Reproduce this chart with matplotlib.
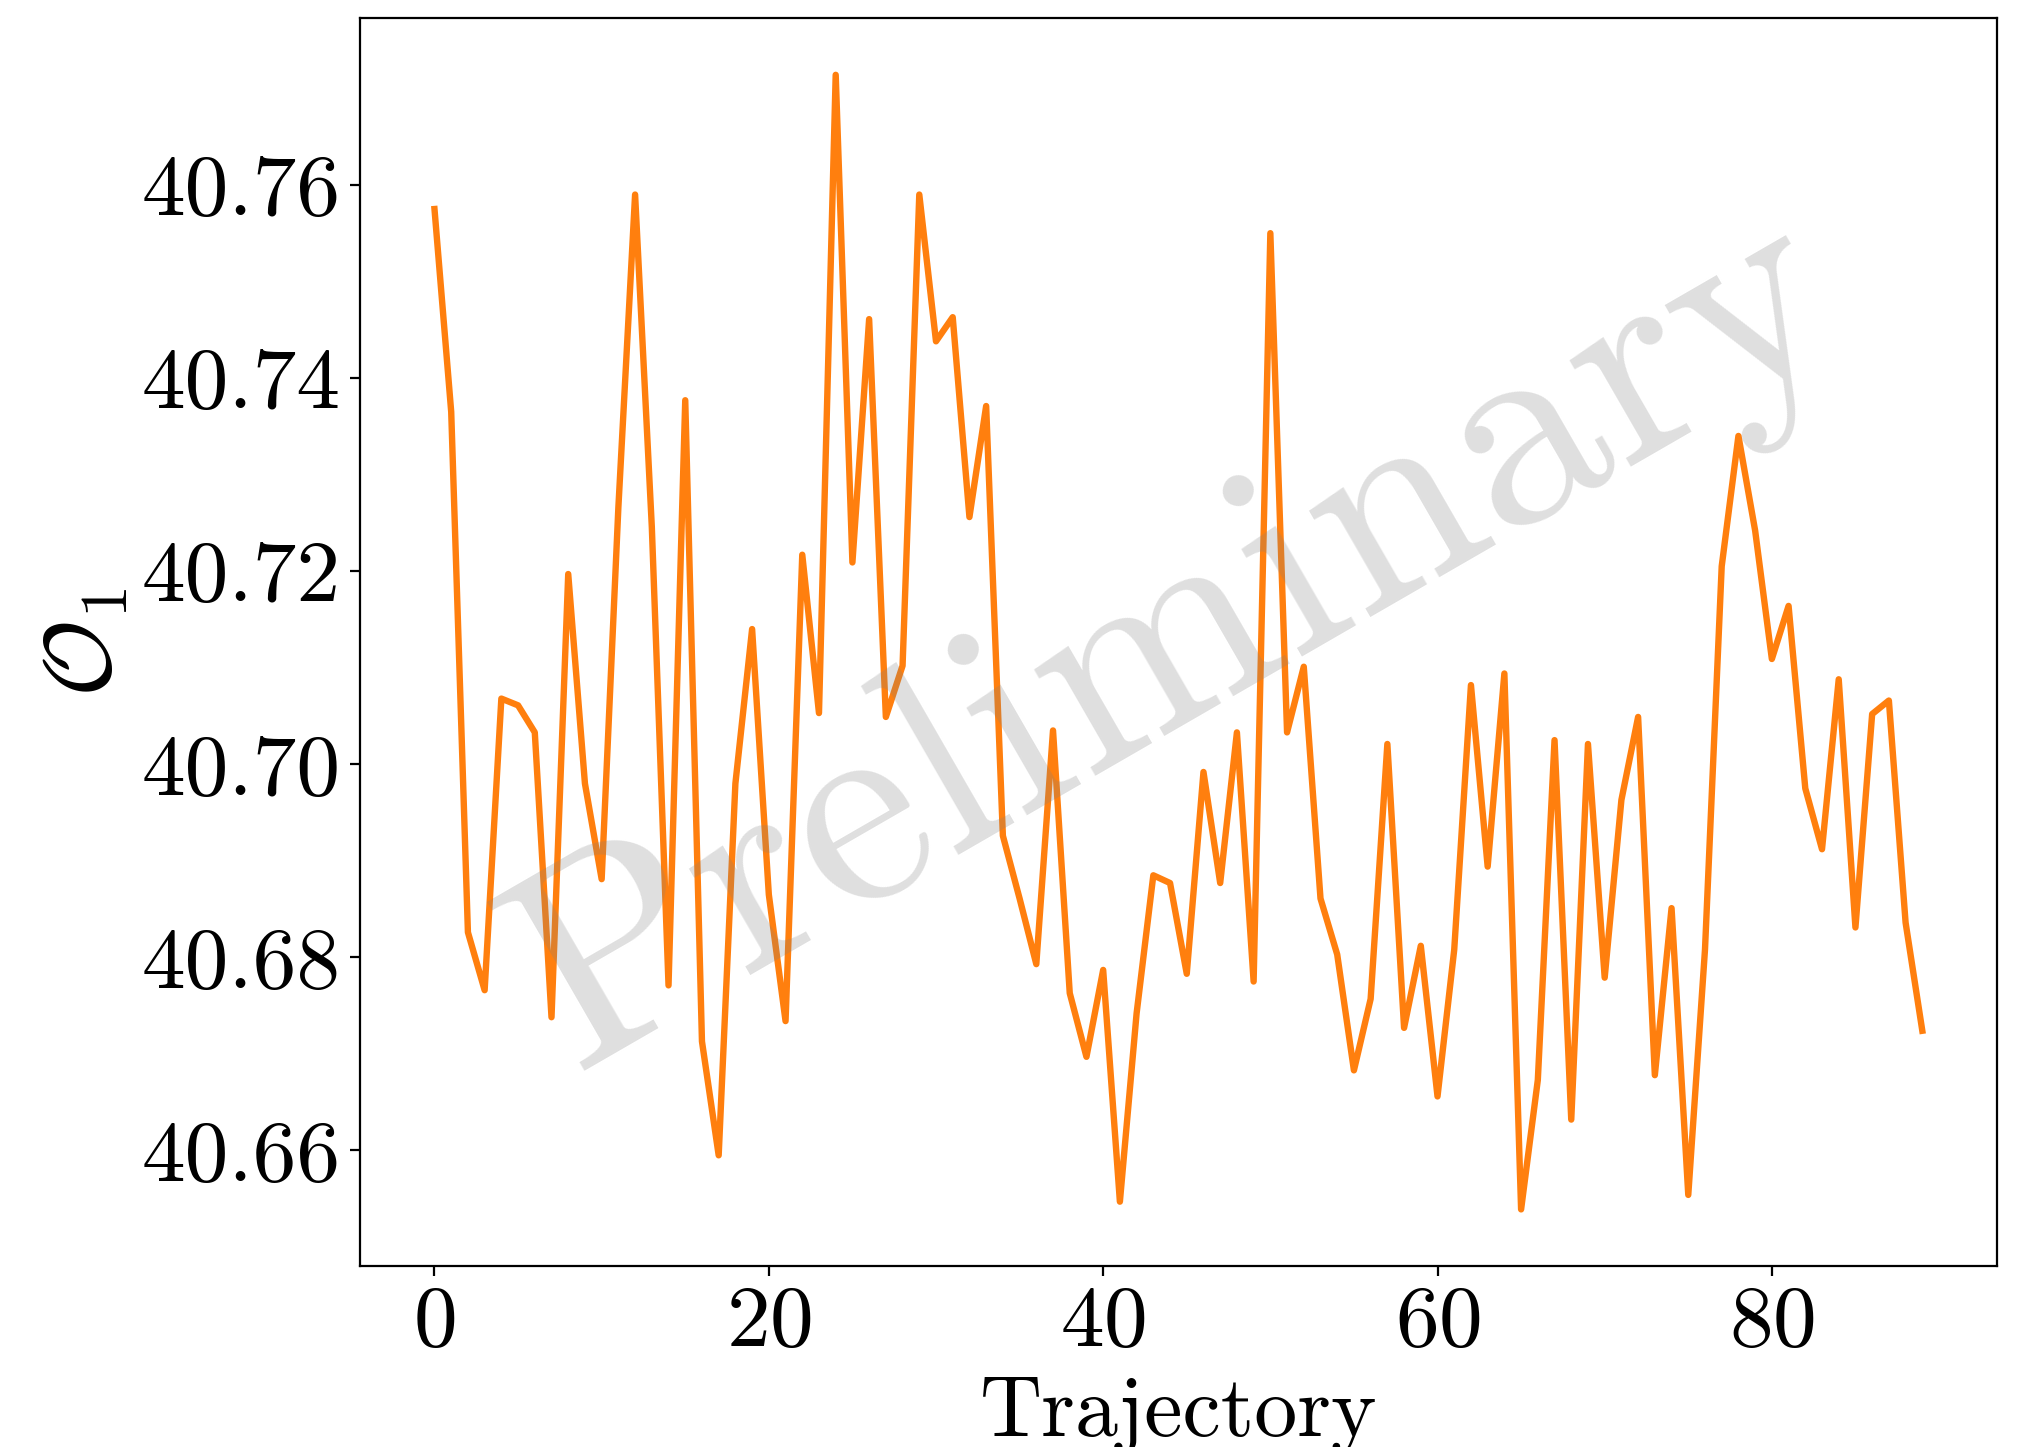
import numpy as np
import matplotlib
matplotlib.use("Agg")
import matplotlib.pyplot as plt

plt.rcParams['font.family'] = 'serif'
plt.rcParams['font.serif'] = ['cmr10']
plt.rcParams['mathtext.fontset'] = 'cm'
plt.rcParams['axes.formatter.use_mathtext'] = True

# observable value per trajectory
trajectory = np.arange(90)
obs = [
    40.7575, 40.7365, 40.6826, 40.6766, 40.7068, 40.7061, 40.7033, 40.6738, 40.7197, 40.6980,
    40.6881, 40.7266, 40.7590, 40.7246, 40.6771, 40.7377, 40.6713, 40.6595, 40.6980, 40.7140,
    40.6865, 40.6734, 40.7217, 40.7053, 40.7714, 40.7209, 40.7461, 40.7049, 40.7102, 40.7590,
    40.7438, 40.7463, 40.7256, 40.7371, 40.6926, 40.6861, 40.6793, 40.7035, 40.6763, 40.6697,
    40.6787, 40.6547, 40.6742, 40.6885, 40.6877, 40.6783, 40.6992, 40.6877, 40.7033, 40.6775,
    40.7550, 40.7033, 40.7101, 40.6861, 40.6803, 40.6683, 40.6757, 40.7021, 40.6727, 40.6812,
    40.6656, 40.6808, 40.7082, 40.6894, 40.7094, 40.6539, 40.6673, 40.7025, 40.6632, 40.7021,
    40.6779, 40.6963, 40.7049, 40.6678, 40.6851, 40.6554, 40.6808, 40.7205, 40.7340, 40.7242,
    40.7109, 40.7164, 40.6975, 40.6912, 40.7088, 40.6831, 40.7052, 40.7066, 40.6836, 40.6724,
]
xticks = [0, 20, 40, 60, 80]
yticks = [40.66, 40.68, 40.70, 40.72, 40.74, 40.76]
ytick_labels = ['40.66', '40.68', '40.70', '40.72', '40.74', '40.76']

dpi = 200
fig = plt.figure(figsize=(2023 / dpi, 1447 / dpi), dpi=dpi)
ax = fig.add_axes([0.178, 0.125, 0.809, 0.8625])

ax.plot(trajectory, obs, color='#ff7f0e', lw=2.3)

ax.set_xlabel('Trajectory', fontsize=31, labelpad=5)
ax.set_ylabel(r'$\mathcal{O}_1$', fontsize=34, labelpad=4)
ax.tick_params(labelsize=31.5)
ax.ticklabel_format(axis='y', useOffset=False)
ax.set_xticks(xticks)
ax.set_yticks(yticks)
ax.set_yticklabels(ytick_labels)

# watermark
ax.text(0.5, 0.5, 'Preliminary', transform=ax.transAxes, fontsize=103,
        color='gray', alpha=0.25, rotation=30, ha='center', va='center', zorder=5)

fig.savefig('out.png', dpi=dpi)
